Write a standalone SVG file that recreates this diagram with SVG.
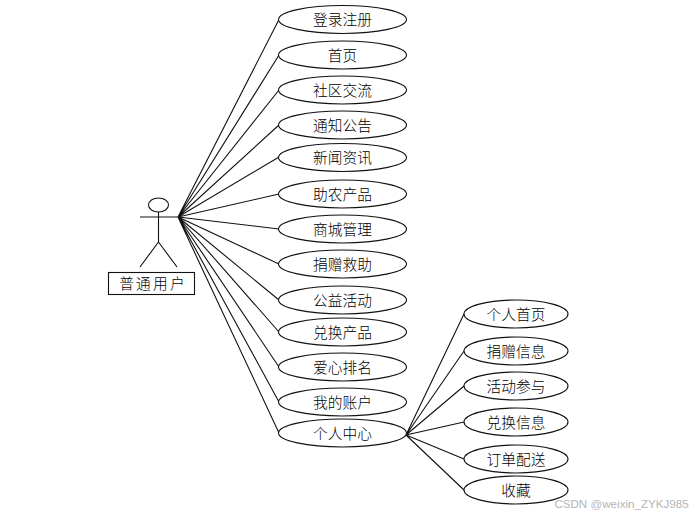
<svg xmlns="http://www.w3.org/2000/svg" width="699" height="517" viewBox="0 0 699 517">
<style>
.s{fill:none;stroke:#111;stroke-width:1.100}
.e{fill:#fff;stroke:#111;stroke-width:1.100}
text{font-family:"Noto Sans CJK SC","Liberation Sans",sans-serif;font-size:14.700px;font-weight:300;fill:#000;text-anchor:middle}
</style>
<rect width="699" height="517" fill="#fff"/>
<g id="connectors" class="s">
<path d="M178 217L279 19.500M178 217L279 55M178 217L279 90M178 217L279 125M178 217L279 157M178 217L279 194M178 217L279 229M178 217L279 264M178 217L279 300M178 217L279 332M178 217L279 367M178 217L279 402M178 217L279 433"/>
<path d="M406 435L464 314M406 435L464 351M406 435L464 386M406 435L464 422M406 435L464 459M406 435L464 490"/>
</g>
<g id="actor">
<ellipse class="s" cx="158.500" cy="205" rx="10" ry="7"/>
<path class="s" d="M158.500 212V242M140 217H178M158.500 242L140 267M158.500 242L177 267"/>
<rect class="s" x="108.500" y="272.500" width="86" height="22"/>
<text x="153" y="289" letter-spacing="2.200">普通用户</text>
</g>
<g id="n1"><ellipse class="e" cx="342.500" cy="19.500" rx="64" ry="14"/><text x="342.500" y="25">登录注册</text></g>
<g id="n2"><ellipse class="e" cx="342.500" cy="55" rx="64" ry="14"/><text x="342.500" y="61">首页</text></g>
<g id="n3"><ellipse class="e" cx="342.500" cy="90" rx="64" ry="14"/><text x="342.500" y="96">社区交流</text></g>
<g id="n4"><ellipse class="e" cx="342.500" cy="125" rx="64" ry="14"/><text x="342.500" y="131">通知公告</text></g>
<g id="n5"><ellipse class="e" cx="342.500" cy="157.500" rx="64" ry="14"/><text x="342.500" y="163">新闻资讯</text></g>
<g id="n6"><ellipse class="e" cx="342.500" cy="194" rx="64" ry="14"/><text x="342.500" y="200">助农产品</text></g>
<g id="n7"><ellipse class="e" cx="342.500" cy="229" rx="64" ry="14"/><text x="342.500" y="235">商城管理</text></g>
<g id="n8"><ellipse class="e" cx="342.500" cy="264" rx="64" ry="14"/><text x="342.500" y="270">捐赠救助</text></g>
<g id="n9"><ellipse class="e" cx="342.500" cy="300" rx="64" ry="14"/><text x="342.500" y="306">公益活动</text></g>
<g id="n10"><ellipse class="e" cx="342.500" cy="332" rx="64" ry="14"/><text x="342.500" y="338">兑换产品</text></g>
<g id="n11"><ellipse class="e" cx="342.500" cy="367" rx="64" ry="14"/><text x="342.500" y="373">爱心排名</text></g>
<g id="n12"><ellipse class="e" cx="342.500" cy="402" rx="64" ry="14"/><text x="342.500" y="408">我的账户</text></g>
<g id="n13"><ellipse class="e" cx="342.500" cy="433" rx="64" ry="14"/><text x="342.500" y="439">个人中心</text></g>
<g id="m1"><ellipse class="e" cx="516" cy="314" rx="52" ry="14"/><text x="516" y="320">个人首页</text></g>
<g id="m2"><ellipse class="e" cx="516" cy="351" rx="52" ry="14"/><text x="516" y="357">捐赠信息</text></g>
<g id="m3"><ellipse class="e" cx="516" cy="386" rx="52" ry="14"/><text x="516" y="392">活动参与</text></g>
<g id="m4"><ellipse class="e" cx="516" cy="422" rx="52" ry="14"/><text x="516" y="428">兑换信息</text></g>
<g id="m5"><ellipse class="e" cx="516" cy="459" rx="52" ry="14"/><text x="516" y="465">订单配送</text></g>
<g id="m6"><ellipse class="e" cx="516" cy="490" rx="52" ry="14"/><text x="516" y="496">收藏</text></g>
<text x="621.500" y="508" style="font-family:'Liberation Sans',sans-serif;font-size:11.600px;font-weight:400;fill:#b5b5b5">CSDN @weixin_ZYKJ985</text>
</svg>
